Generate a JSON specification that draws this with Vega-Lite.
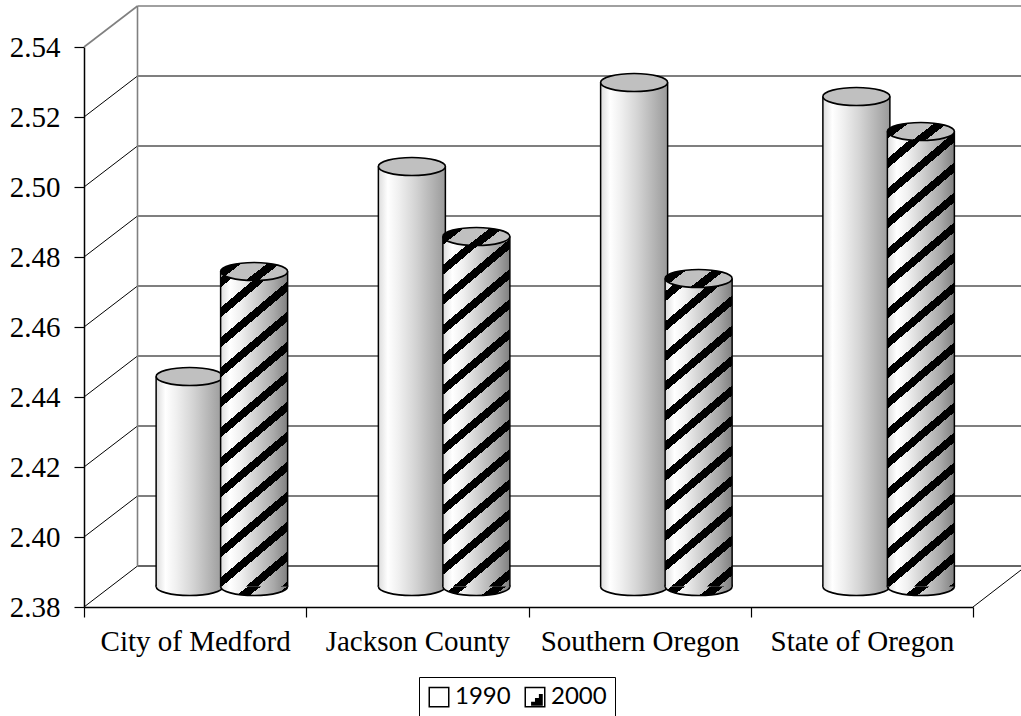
{"$schema":"https://vega.github.io/schema/vega-lite/v6.json","width":1021,"height":716,"padding":0,"autosize":{"type":"none"},"background":"white","config":{"view":{"stroke":null}},
"datasets":{"bars":[{"category":"City of Medford","series":"1990","value":2.44},{"category":"Jackson County","series":"1990","value":2.5},{"category":"Southern Oregon","series":"1990","value":2.524},{"category":"State of Oregon","series":"1990","value":2.52},{"category":"City of Medford","series":"2000","value":2.47},{"category":"Jackson County","series":"2000","value":2.48},{"category":"Southern Oregon","series":"2000","value":2.468},{"category":"State of Oregon","series":"2000","value":2.51}],
"grid":[{"value":2.38},{"value":2.40},{"value":2.42},{"value":2.44},{"value":2.46},{"value":2.48},{"value":2.50},{"value":2.52},{"value":2.54}]},
"layer":[
{"data":{"name":"grid"},"transform":[{"filter":"datum.value<2.539 && datum.value>2.381"}],"mark":{"type":"rule","color":"#000","strokeWidth":1.2,"yOffset":-41},"encoding":{"x":{"datum":0,"type":"quantitative","scale":{"domain":[0,1],"range":[137.5,1021]},"axis":null},"x2":{"datum":1},"y":{"field":"value","type":"quantitative","scale":{"domain":[2.38,2.54],"range":[607,47],"nice":false,"zero":false},"axis":null}}},
{"data":{"name":"grid"},"transform":[{"filter":"datum.value>2.539"}],"mark":{"type":"rule","color":"#808080","strokeWidth":1.6,"yOffset":-41},"encoding":{"x":{"datum":0,"type":"quantitative","scale":{"domain":[0,1],"range":[137.5,1021]},"axis":null},"x2":{"datum":1},"y":{"field":"value","type":"quantitative","scale":{"domain":[2.38,2.54],"range":[607,47],"nice":false,"zero":false},"axis":null}}},
{"data":{"name":"grid"},"transform":[{"filter":"datum.value<2.381"}],"mark":{"type":"rule","color":"#666","strokeWidth":2,"yOffset":-41},"encoding":{"x":{"datum":0,"type":"quantitative","scale":{"domain":[0,1],"range":[137.5,1021]},"axis":null},"x2":{"datum":1},"y":{"field":"value","type":"quantitative","scale":{"domain":[2.38,2.54],"range":[607,47],"nice":false,"zero":false},"axis":null}}},
{"data":{"name":"grid"},"transform":[{"filter":"datum.value<2.539"}],"mark":{"type":"rule","color":"#000","strokeWidth":1,"y2Offset":-41},"encoding":{"x":{"datum":0,"type":"quantitative","scale":{"domain":[0,1],"range":[84,137.5]},"axis":null},"x2":{"datum":1},"y":{"field":"value","type":"quantitative","scale":{"domain":[2.38,2.54],"range":[607,47],"nice":false,"zero":false},"axis":null},"y2":{"field":"value"}}},
{"data":{"name":"grid"},"transform":[{"filter":"datum.value>2.539"}],"mark":{"type":"rule","color":"#808080","strokeWidth":1.6,"y2Offset":-41},"encoding":{"x":{"datum":0,"type":"quantitative","scale":{"domain":[0,1],"range":[84,137.5]},"axis":null},"x2":{"datum":1},"y":{"field":"value","type":"quantitative","scale":{"domain":[2.38,2.54],"range":[607,47],"nice":false,"zero":false},"axis":null},"y2":{"field":"value"}}},
{"data":{"name":"grid"},"transform":[{"filter":"datum.value<2.381"}],"mark":{"type":"rule","color":"#000","strokeWidth":1,"y2Offset":-37},"encoding":{"x":{"datum":0,"type":"quantitative","scale":{"domain":[0,1],"range":[973,1021]},"axis":null},"x2":{"datum":1},"y":{"field":"value","type":"quantitative","scale":{"domain":[2.38,2.54],"range":[607,47],"nice":false,"zero":false},"axis":null},"y2":{"field":"value"}}},
{"data":{"name":"grid"},"transform":[{"filter":"datum.value<2.381"}],"mark":{"type":"rule","color":"#808080","strokeWidth":1.6,"yOffset":-41,"y2Offset":-41},"encoding":{"x":{"datum":0,"type":"quantitative","scale":{"domain":[0,1],"range":[137.5,137.5]},"axis":null},"y":{"datum":2.38,"type":"quantitative","scale":{"domain":[2.38,2.54],"range":[607,47],"nice":false,"zero":false},"axis":null},"y2":{"datum":2.54}}},
{"data":{"name":"bars"},"encoding":{"x":{"field":"category","type":"nominal","sort":null,"title":null,"scale":{"domain":["City of Medford","Jackson County","Southern Oregon","State of Oregon"],"range":[84,973],"paddingInner":0,"paddingOuter":0},"axis":{"orient":"bottom","offset":-109,"tickBand":"extent","labelAngle":0,"labelFont":"Liberation Serif","labelFontSize":29,"labelColor":"#000","labelPadding":10,"labelLimit":400,"tickSize":10,"tickColor":"#000","domainColor":"#000","domainWidth":1.5,"tickWidth":1.2,"grid":false,"labelOverlap":false}},
"y":{"field":"value","type":"quantitative","scale":{"domain":[2.38,2.54],"range":[607,47],"nice":false,"zero":false},"title":null,"axis":{"orient":"left","offset":-84,"values":[2.38,2.40,2.42,2.44,2.46,2.48,2.50,2.52,2.54],"format":".2f","labelFont":"Liberation Serif","labelFontSize":29,"labelColor":"#000","labelPadding":14,"tickSize":10,"tickColor":"#000","domainColor":"#000","domainWidth":1.5,"tickWidth":1.2,"grid":false}}},
"layer":[
{"mark":{"type":"point","filled":false,"opacity":0},"encoding":{"stroke":{"field":"series","type":"nominal","scale":{"domain":["1990","2000"],"range":["#000","#000"]},"legend":{"orient":"none","legendX":419,"legendY":677,"direction":"horizontal","columns":2,"title":null,"symbolType":"square","symbolSize":380,"symbolStrokeWidth":1.5,"symbolOpacity":1,"labelFont":"Lato","labelFontSize":24,"labelColor":"#000","strokeColor":"#000","fillColor":"#fff","padding":8,"columnPadding":11,"labelOffset":4}}}},
{"transform":[{"calculate":"datum.series","as":"swatch"}],"mark":{"type":"point","filled":true,"opacity":0},"encoding":{"fill":{"field":"swatch","type":"nominal","scale":{"range":["#ffffff00","#000000"]},"legend":{"orient":"none","legendX":419,"legendY":677,"direction":"horizontal","columns":2,"title":null,"symbolType":"M0.9,0.9L-0.3,0.9L-0.3,0.5L0.1,0.5L0.1,0.1L0.5,0.1L0.5,-0.3L0.9,-0.3Z","symbolSize":380,"symbolOpacity":1,"labelFont":"Lato","labelFontSize":24,"labelColor":"#ffffff00","padding":8,"columnPadding":11,"labelOffset":4}}}},
{"transform":[{"filter":"datum.series=='1990'"}],"layer":[
{"mark":{"type":"point","filled":true,"opacity":1,"shape":"M-1,0A1,0.269 0 1 1 1,0A1,0.269 0 1 1 -1,0Z","size":4489,"stroke":"#000","strokeWidth":1.6,"xOffset":-5.5,"yOffset":-20.5,"fill":{"gradient":"linear","x1":0,"y1":0,"x2":1,"y2":0,"stops":[{"offset":0,"color":"#dcdcdc"},{"offset":0.14,"color":"#ffffff"},{"offset":0.3,"color":"#f0f0f0"},{"offset":0.55,"color":"#d4d4d4"},{"offset":0.8,"color":"#b4b4b4"},{"offset":1,"color":"#9a9a9a"}]}},"encoding":{"y":{"datum":2.38,"type":"quantitative"}}},
{"mark":{"type":"bar","width":67,"xOffset":-5.5,"yOffset":-20.5,"y2Offset":-20.5,"fill":{"gradient":"linear","x1":0,"y1":0,"x2":1,"y2":0,"stops":[{"offset":0,"color":"#dcdcdc"},{"offset":0.14,"color":"#ffffff"},{"offset":0.3,"color":"#f0f0f0"},{"offset":0.55,"color":"#d4d4d4"},{"offset":0.8,"color":"#b4b4b4"},{"offset":1,"color":"#9a9a9a"}]}},"encoding":{"y2":{"datum":2.38}}},
{"mark":{"type":"rule","color":"#000","strokeWidth":1.5,"xOffset":-39,"yOffset":-20.5,"y2Offset":-20.5},"encoding":{"y2":{"datum":2.38}}},
{"mark":{"type":"rule","color":"#000","strokeWidth":1.5,"xOffset":28,"yOffset":-20.5,"y2Offset":-20.5},"encoding":{"y2":{"datum":2.38}}},
{"mark":{"type":"point","filled":true,"opacity":1,"shape":"M-1,0A1,0.269 0 1 1 1,0A1,0.269 0 1 1 -1,0Z","size":4489,"stroke":"#000","strokeWidth":1.6,"fill":"#c0c0c0","xOffset":-5.5,"yOffset":-20.5}}
]},
{"transform":[{"filter":"datum.series=='2000'"}],"layer":[
{"mark":{"type":"point","filled":true,"opacity":1,"shape":"M-1,0A1,0.269 0 1 1 1,0A1,0.269 0 1 1 -1,0Z","size":4489,"stroke":"#000","strokeWidth":1.6,"xOffset":59,"yOffset":-20.5,"fill":{"gradient":"linear","x1":0,"y1":0,"x2":1,"y2":0,"stops":[{"offset":0,"color":"#dcdcdc"},{"offset":0.14,"color":"#ffffff"},{"offset":0.3,"color":"#f0f0f0"},{"offset":0.55,"color":"#cccccc"},{"offset":0.8,"color":"#a8a8a8"},{"offset":1,"color":"#808080"}]}},"encoding":{"y":{"datum":2.38,"type":"quantitative"}}},
{"transform":[{"filter":"datum.category=='City of Medford'"}],"mark":{"type":"point","filled":true,"opacity":1,"shape":"M-1,0A1,0.269 0 1 1 1,0A1,0.269 0 1 1 -1,0Z","size":4489,"xOffset":59,"yOffset":-20.5,"fill":{"gradient":"linear","x1":0,"y1":0,"x2":1.203,"y2":0.4205,"stops":[{"offset":0,"color":"#000"},{"offset":0.144,"color":"#000"},{"offset":0.144,"color":"#0000"},{"offset":0.431,"color":"#0000"},{"offset":0.431,"color":"#000"},{"offset":0.575,"color":"#000"},{"offset":0.575,"color":"#0000"},{"offset":0.862,"color":"#0000"},{"offset":0.862,"color":"#000"},{"offset":1,"color":"#000"}]}},"encoding":{"y":{"datum":2.38,"type":"quantitative"}}},
{"transform":[{"filter":"datum.category=='Jackson County'"}],"mark":{"type":"point","filled":true,"opacity":1,"shape":"M-1,0A1,0.269 0 1 1 1,0A1,0.269 0 1 1 -1,0Z","size":4489,"xOffset":59,"yOffset":-20.5,"fill":{"gradient":"linear","x1":0,"y1":0,"x2":1.203,"y2":0.4205,"stops":[{"offset":0,"color":"#0000"},{"offset":0.251,"color":"#0000"},{"offset":0.251,"color":"#000"},{"offset":0.395,"color":"#000"},{"offset":0.395,"color":"#0000"},{"offset":0.682,"color":"#0000"},{"offset":0.682,"color":"#000"},{"offset":0.826,"color":"#000"},{"offset":0.826,"color":"#0000"},{"offset":1,"color":"#0000"}]}},"encoding":{"y":{"datum":2.38,"type":"quantitative"}}},
{"transform":[{"filter":"datum.category=='Southern Oregon'"}],"mark":{"type":"point","filled":true,"opacity":1,"shape":"M-1,0A1,0.269 0 1 1 1,0A1,0.269 0 1 1 -1,0Z","size":4489,"xOffset":59,"yOffset":-20.5,"fill":{"gradient":"linear","x1":0,"y1":0,"x2":1.203,"y2":0.4205,"stops":[{"offset":0,"color":"#0000"},{"offset":0.203,"color":"#0000"},{"offset":0.203,"color":"#000"},{"offset":0.347,"color":"#000"},{"offset":0.347,"color":"#0000"},{"offset":0.634,"color":"#0000"},{"offset":0.634,"color":"#000"},{"offset":0.778,"color":"#000"},{"offset":0.778,"color":"#0000"},{"offset":1,"color":"#0000"}]}},"encoding":{"y":{"datum":2.38,"type":"quantitative"}}},
{"transform":[{"filter":"datum.category=='State of Oregon'"}],"mark":{"type":"point","filled":true,"opacity":1,"shape":"M-1,0A1,0.269 0 1 1 1,0A1,0.269 0 1 1 -1,0Z","size":4489,"xOffset":59,"yOffset":-20.5,"fill":{"gradient":"linear","x1":0,"y1":0,"x2":1.203,"y2":0.4205,"stops":[{"offset":0,"color":"#0000"},{"offset":0.013,"color":"#0000"},{"offset":0.013,"color":"#000"},{"offset":0.157,"color":"#000"},{"offset":0.157,"color":"#0000"},{"offset":0.444,"color":"#0000"},{"offset":0.444,"color":"#000"},{"offset":0.588,"color":"#000"},{"offset":0.588,"color":"#0000"},{"offset":0.875,"color":"#0000"},{"offset":0.875,"color":"#000"},{"offset":1,"color":"#000"}]}},"encoding":{"y":{"datum":2.38,"type":"quantitative"}}},
{"mark":{"type":"bar","width":67,"xOffset":59,"yOffset":-20.5,"y2Offset":-20.5,"fill":{"gradient":"linear","x1":0,"y1":0,"x2":1,"y2":0,"stops":[{"offset":0,"color":"#dcdcdc"},{"offset":0.14,"color":"#ffffff"},{"offset":0.3,"color":"#f0f0f0"},{"offset":0.55,"color":"#cccccc"},{"offset":0.8,"color":"#a8a8a8"},{"offset":1,"color":"#808080"}]}},"encoding":{"y2":{"datum":2.38}}},
{"transform":[{"filter":"datum.category=='City of Medford'"}],"mark":{"type":"bar","width":67,"xOffset":59,"yOffset":-20.5,"y2Offset":-20.5,"fill":{"gradient":"linear","x1":0,"y1":-0.0762,"x2":0.23093,"y2":1.2159,"stops":[{"offset":0,"color":"#000"},{"offset":0.02381,"color":"#000"},{"offset":0.02381,"color":"#0000"},{"offset":0.07143,"color":"#0000"},{"offset":0.07143,"color":"#000"},{"offset":0.09524,"color":"#000"},{"offset":0.09524,"color":"#0000"},{"offset":0.14286,"color":"#0000"},{"offset":0.14286,"color":"#000"},{"offset":0.16667,"color":"#000"},{"offset":0.16667,"color":"#0000"},{"offset":0.21429,"color":"#0000"},{"offset":0.21429,"color":"#000"},{"offset":0.2381,"color":"#000"},{"offset":0.2381,"color":"#0000"},{"offset":0.28571,"color":"#0000"},{"offset":0.28571,"color":"#000"},{"offset":0.30952,"color":"#000"},{"offset":0.30952,"color":"#0000"},{"offset":0.35714,"color":"#0000"},{"offset":0.35714,"color":"#000"},{"offset":0.38095,"color":"#000"},{"offset":0.38095,"color":"#0000"},{"offset":0.42857,"color":"#0000"},{"offset":0.42857,"color":"#000"},{"offset":0.45238,"color":"#000"},{"offset":0.45238,"color":"#0000"},{"offset":0.5,"color":"#0000"},{"offset":0.5,"color":"#000"},{"offset":0.52381,"color":"#000"},{"offset":0.52381,"color":"#0000"},{"offset":0.57143,"color":"#0000"},{"offset":0.57143,"color":"#000"},{"offset":0.59524,"color":"#000"},{"offset":0.59524,"color":"#0000"},{"offset":0.64286,"color":"#0000"},{"offset":0.64286,"color":"#000"},{"offset":0.66667,"color":"#000"},{"offset":0.66667,"color":"#0000"},{"offset":0.71429,"color":"#0000"},{"offset":0.71429,"color":"#000"},{"offset":0.7381,"color":"#000"},{"offset":0.7381,"color":"#0000"},{"offset":0.78571,"color":"#0000"},{"offset":0.78571,"color":"#000"},{"offset":0.80952,"color":"#000"},{"offset":0.80952,"color":"#0000"},{"offset":0.85714,"color":"#0000"},{"offset":0.85714,"color":"#000"},{"offset":0.88095,"color":"#000"},{"offset":0.88095,"color":"#0000"},{"offset":0.92857,"color":"#0000"},{"offset":0.92857,"color":"#000"},{"offset":0.95238,"color":"#000"},{"offset":0.95238,"color":"#0000"},{"offset":1,"color":"#0000"}]}},"encoding":{"y2":{"datum":2.38}}},
{"transform":[{"filter":"datum.category=='Southern Oregon'"}],"mark":{"type":"bar","width":67,"xOffset":59,"yOffset":-20.5,"y2Offset":-20.5,"fill":{"gradient":"linear","x1":0,"y1":-0.0552,"x2":0.2412,"y2":1.2643,"stops":[{"offset":0,"color":"#000"},{"offset":0.02381,"color":"#000"},{"offset":0.02381,"color":"#0000"},{"offset":0.07143,"color":"#0000"},{"offset":0.07143,"color":"#000"},{"offset":0.09524,"color":"#000"},{"offset":0.09524,"color":"#0000"},{"offset":0.14286,"color":"#0000"},{"offset":0.14286,"color":"#000"},{"offset":0.16667,"color":"#000"},{"offset":0.16667,"color":"#0000"},{"offset":0.21429,"color":"#0000"},{"offset":0.21429,"color":"#000"},{"offset":0.2381,"color":"#000"},{"offset":0.2381,"color":"#0000"},{"offset":0.28571,"color":"#0000"},{"offset":0.28571,"color":"#000"},{"offset":0.30952,"color":"#000"},{"offset":0.30952,"color":"#0000"},{"offset":0.35714,"color":"#0000"},{"offset":0.35714,"color":"#000"},{"offset":0.38095,"color":"#000"},{"offset":0.38095,"color":"#0000"},{"offset":0.42857,"color":"#0000"},{"offset":0.42857,"color":"#000"},{"offset":0.45238,"color":"#000"},{"offset":0.45238,"color":"#0000"},{"offset":0.5,"color":"#0000"},{"offset":0.5,"color":"#000"},{"offset":0.52381,"color":"#000"},{"offset":0.52381,"color":"#0000"},{"offset":0.57143,"color":"#0000"},{"offset":0.57143,"color":"#000"},{"offset":0.59524,"color":"#000"},{"offset":0.59524,"color":"#0000"},{"offset":0.64286,"color":"#0000"},{"offset":0.64286,"color":"#000"},{"offset":0.66667,"color":"#000"},{"offset":0.66667,"color":"#0000"},{"offset":0.71429,"color":"#0000"},{"offset":0.71429,"color":"#000"},{"offset":0.7381,"color":"#000"},{"offset":0.7381,"color":"#0000"},{"offset":0.78571,"color":"#0000"},{"offset":0.78571,"color":"#000"},{"offset":0.80952,"color":"#000"},{"offset":0.80952,"color":"#0000"},{"offset":0.85714,"color":"#0000"},{"offset":0.85714,"color":"#000"},{"offset":0.88095,"color":"#000"},{"offset":0.88095,"color":"#0000"},{"offset":0.92857,"color":"#0000"},{"offset":0.92857,"color":"#000"},{"offset":0.95238,"color":"#000"},{"offset":0.95238,"color":"#0000"},{"offset":1,"color":"#0000"}]}},"encoding":{"y2":{"datum":2.38}}},
{"transform":[{"filter":"datum.category=='Jackson County'"}],"mark":{"type":"bar","width":67,"xOffset":59,"yOffset":-20.5,"y2Offset":-20.5,"fill":{"gradient":"linear","x1":0,"y1":-0.0043,"x2":0.2016,"y2":1.249,"stops":[{"offset":0,"color":"#000"},{"offset":0.02222,"color":"#000"},{"offset":0.02222,"color":"#0000"},{"offset":0.06667,"color":"#0000"},{"offset":0.06667,"color":"#000"},{"offset":0.08889,"color":"#000"},{"offset":0.08889,"color":"#0000"},{"offset":0.13333,"color":"#0000"},{"offset":0.13333,"color":"#000"},{"offset":0.15556,"color":"#000"},{"offset":0.15556,"color":"#0000"},{"offset":0.2,"color":"#0000"},{"offset":0.2,"color":"#000"},{"offset":0.22222,"color":"#000"},{"offset":0.22222,"color":"#0000"},{"offset":0.26667,"color":"#0000"},{"offset":0.26667,"color":"#000"},{"offset":0.28889,"color":"#000"},{"offset":0.28889,"color":"#0000"},{"offset":0.33333,"color":"#0000"},{"offset":0.33333,"color":"#000"},{"offset":0.35556,"color":"#000"},{"offset":0.35556,"color":"#0000"},{"offset":0.4,"color":"#0000"},{"offset":0.4,"color":"#000"},{"offset":0.42222,"color":"#000"},{"offset":0.42222,"color":"#0000"},{"offset":0.46667,"color":"#0000"},{"offset":0.46667,"color":"#000"},{"offset":0.48889,"color":"#000"},{"offset":0.48889,"color":"#0000"},{"offset":0.53333,"color":"#0000"},{"offset":0.53333,"color":"#000"},{"offset":0.55556,"color":"#000"},{"offset":0.55556,"color":"#0000"},{"offset":0.6,"color":"#0000"},{"offset":0.6,"color":"#000"},{"offset":0.62222,"color":"#000"},{"offset":0.62222,"color":"#0000"},{"offset":0.66667,"color":"#0000"},{"offset":0.66667,"color":"#000"},{"offset":0.68889,"color":"#000"},{"offset":0.68889,"color":"#0000"},{"offset":0.73333,"color":"#0000"},{"offset":0.73333,"color":"#000"},{"offset":0.75556,"color":"#000"},{"offset":0.75556,"color":"#0000"},{"offset":0.8,"color":"#0000"},{"offset":0.8,"color":"#000"},{"offset":0.82222,"color":"#000"},{"offset":0.82222,"color":"#0000"},{"offset":0.86667,"color":"#0000"},{"offset":0.86667,"color":"#000"},{"offset":0.88889,"color":"#000"},{"offset":0.88889,"color":"#0000"},{"offset":0.93333,"color":"#0000"},{"offset":0.93333,"color":"#000"},{"offset":0.95556,"color":"#000"},{"offset":0.95556,"color":"#0000"},{"offset":1,"color":"#0000"}]}},"encoding":{"y2":{"datum":2.38}}},
{"transform":[{"filter":"datum.category=='State of Oregon'"}],"mark":{"type":"bar","width":67,"xOffset":59,"yOffset":-20.5,"y2Offset":-20.5,"fill":{"gradient":"linear","x1":0,"y1":-0.0066,"x2":0.14464,"y2":1.1623,"stops":[{"offset":0,"color":"#000"},{"offset":0.01852,"color":"#000"},{"offset":0.01852,"color":"#0000"},{"offset":0.05556,"color":"#0000"},{"offset":0.05556,"color":"#000"},{"offset":0.07407,"color":"#000"},{"offset":0.07407,"color":"#0000"},{"offset":0.11111,"color":"#0000"},{"offset":0.11111,"color":"#000"},{"offset":0.12963,"color":"#000"},{"offset":0.12963,"color":"#0000"},{"offset":0.16667,"color":"#0000"},{"offset":0.16667,"color":"#000"},{"offset":0.18519,"color":"#000"},{"offset":0.18519,"color":"#0000"},{"offset":0.22222,"color":"#0000"},{"offset":0.22222,"color":"#000"},{"offset":0.24074,"color":"#000"},{"offset":0.24074,"color":"#0000"},{"offset":0.27778,"color":"#0000"},{"offset":0.27778,"color":"#000"},{"offset":0.2963,"color":"#000"},{"offset":0.2963,"color":"#0000"},{"offset":0.33333,"color":"#0000"},{"offset":0.33333,"color":"#000"},{"offset":0.35185,"color":"#000"},{"offset":0.35185,"color":"#0000"},{"offset":0.38889,"color":"#0000"},{"offset":0.38889,"color":"#000"},{"offset":0.40741,"color":"#000"},{"offset":0.40741,"color":"#0000"},{"offset":0.44444,"color":"#0000"},{"offset":0.44444,"color":"#000"},{"offset":0.46296,"color":"#000"},{"offset":0.46296,"color":"#0000"},{"offset":0.5,"color":"#0000"},{"offset":0.5,"color":"#000"},{"offset":0.51852,"color":"#000"},{"offset":0.51852,"color":"#0000"},{"offset":0.55556,"color":"#0000"},{"offset":0.55556,"color":"#000"},{"offset":0.57407,"color":"#000"},{"offset":0.57407,"color":"#0000"},{"offset":0.61111,"color":"#0000"},{"offset":0.61111,"color":"#000"},{"offset":0.62963,"color":"#000"},{"offset":0.62963,"color":"#0000"},{"offset":0.66667,"color":"#0000"},{"offset":0.66667,"color":"#000"},{"offset":0.68519,"color":"#000"},{"offset":0.68519,"color":"#0000"},{"offset":0.72222,"color":"#0000"},{"offset":0.72222,"color":"#000"},{"offset":0.74074,"color":"#000"},{"offset":0.74074,"color":"#0000"},{"offset":0.77778,"color":"#0000"},{"offset":0.77778,"color":"#000"},{"offset":0.7963,"color":"#000"},{"offset":0.7963,"color":"#0000"},{"offset":0.83333,"color":"#0000"},{"offset":0.83333,"color":"#000"},{"offset":0.85185,"color":"#000"},{"offset":0.85185,"color":"#0000"},{"offset":0.88889,"color":"#0000"},{"offset":0.88889,"color":"#000"},{"offset":0.90741,"color":"#000"},{"offset":0.90741,"color":"#0000"},{"offset":0.94444,"color":"#0000"},{"offset":0.94444,"color":"#000"},{"offset":0.96296,"color":"#000"},{"offset":0.96296,"color":"#0000"},{"offset":1,"color":"#0000"}]}},"encoding":{"y2":{"datum":2.38}}},
{"mark":{"type":"rule","color":"#000","strokeWidth":1.5,"xOffset":25.5,"yOffset":-20.5,"y2Offset":-20.5},"encoding":{"y2":{"datum":2.38}}},
{"mark":{"type":"rule","color":"#000","strokeWidth":1.5,"xOffset":92.5,"yOffset":-20.5,"y2Offset":-20.5},"encoding":{"y2":{"datum":2.38}}},
{"mark":{"type":"point","filled":true,"opacity":1,"shape":"M-1,0A1,0.269 0 1 1 1,0A1,0.269 0 1 1 -1,0Z","size":4489,"fill":"#c0c0c0","xOffset":59,"yOffset":-20.5}},
{"mark":{"type":"point","filled":true,"opacity":1,"shape":"M-1,0A1,0.269 0 1 1 1,0A1,0.269 0 1 1 -1,0Z","size":4489,"stroke":"#000","strokeWidth":1.6,"xOffset":59,"yOffset":-20.5,"fill":{"gradient":"linear","x1":0,"y1":0,"x2":1.203,"y2":0.4205,"stops":[{"offset":0,"color":"#0000"},{"offset":0.1,"color":"#0000"},{"offset":0.1,"color":"#000"},{"offset":0.244,"color":"#000"},{"offset":0.244,"color":"#0000"},{"offset":0.531,"color":"#0000"},{"offset":0.531,"color":"#000"},{"offset":0.675,"color":"#000"},{"offset":0.675,"color":"#0000"},{"offset":0.962,"color":"#0000"},{"offset":0.962,"color":"#000"},{"offset":1,"color":"#000"}]}}}
]}
]}
],
"resolve":{"scale":{"x":"independent"},"axis":{"x":"independent","y":"independent"}}}
